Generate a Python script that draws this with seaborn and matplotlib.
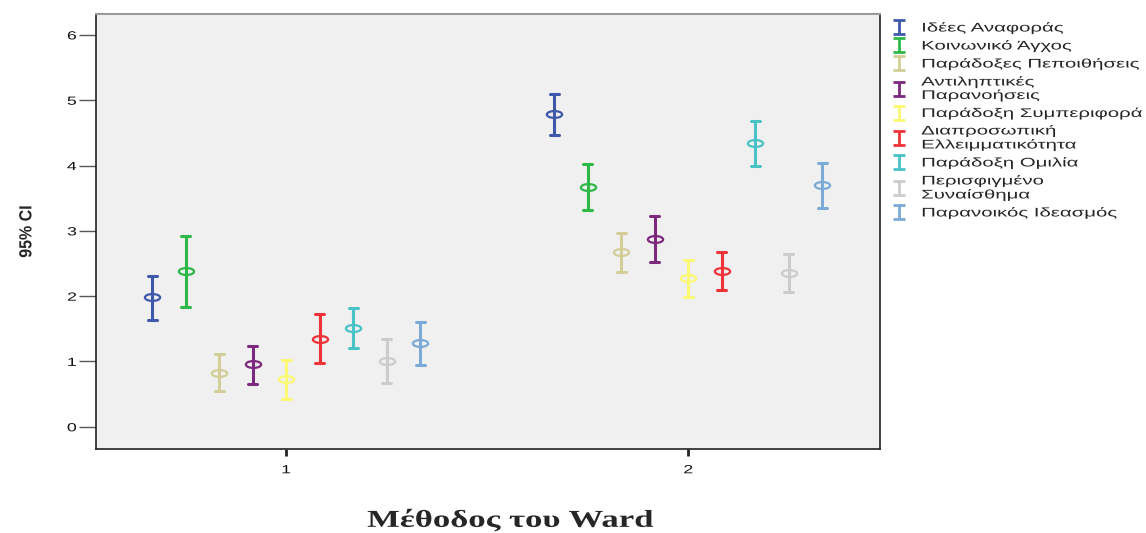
#Import Libraries
import pandas as pd
import numpy as np
import matplotlib.pyplot as plt
import seaborn as sns
from matplotlib.path import Path
from matplotlib.transforms import Affine2D
from matplotlib.lines import Line2D
from matplotlib.patheffects import AbstractPathEffect

#Data: cluster groups, subscales, 95% CI low / mean / high
groups = ["1", "2"]
scales = ["Ιδέες Αναφοράς", "Κοινωνικό Άγχος", "Παράδοξες Πεποιθήσεις",
          "Αντιληπτικές\nΠαρανοήσεις", "Παράδοξη Συμπεριφορά",
          "Διαπροσωπική\nΕλλειμματικότητα", "Παράδοξη Ομιλία",
          "Περισφιγμένο\nΣυναίσθημα", "Παρανοικός Ιδεασμός"]
colors = ["#3E58AC", "#2EB848", "#D3CE97", "#7C287D", "#FBF873",
          "#EF3338", "#48C2C5", "#CCCCCC", "#7AAAD5"]

mean_g1 = [1.98, 2.39, 0.83, 0.96, 0.73, 1.35, 1.51, 1.01, 1.28]
low_g1 = [1.64, 1.84, 0.55, 0.66, 0.43, 0.98, 1.20, 0.67, 0.95]
high_g1 = [2.31, 2.92, 1.11, 1.24, 1.02, 1.72, 1.82, 1.34, 1.61]

mean_g2 = [4.79, 3.67, 2.68, 2.88, 2.28, 2.38, 4.34, 2.36, 3.70]
low_g2 = [4.47, 3.32, 2.37, 2.53, 1.99, 2.10, 4.00, 2.07, 3.35]
high_g2 = [5.09, 4.02, 2.97, 3.22, 2.56, 2.67, 4.68, 2.65, 4.04]

#Long table: each cell gets low, mean, high -> median = mean, min/max = CI
rows = []
for g, lo, me, hi in [("1", low_g1, mean_g1, high_g1), ("2", low_g2, mean_g2, high_g2)]:
    for s, a, b, c in zip(scales, lo, me, hi):
        for v in (a, b, c):
            rows.append({"group": g, "scale": s, "value": v})
df = pd.DataFrame(rows)


#Text in the original is stretched sideways, this widens glyphs in place
class Stretch(AbstractPathEffect):
    def __init__(self, sx=1.0, sy=1.0, anchor="left"):
        super().__init__()
        self.sx, self.sy, self.anchor = sx, sy, anchor

    def draw_path(self, renderer, gc, tpath, affine, rgbFace=None):
        ext = tpath.get_extents()
        cx = {"left": 0.0, "center": (ext.x0 + ext.x1) / 2, "right": ext.x1}[self.anchor]
        cy = (ext.y0 + ext.y1) / 2
        t = Affine2D().translate(-cx, -cy).scale(self.sx, self.sy).translate(cx, cy)
        renderer.draw_path(gc, tpath, t + affine, rgbFace)


#Adjustments
sns.set_theme(style="ticks")
plt.rcParams['font.family'] = ['Liberation Sans', 'DejaVu Sans']

ellipse = Path.unit_circle().transformed(Affine2D().scale(1.0, 0.45))

fig = plt.figure(figsize=(11.46, 5.33), dpi=100)
ax = fig.add_axes([0.0838, 0.1576, 0.6841, 0.8161])
ax.set_facecolor("#F0F0F0")

sns.pointplot(data=df, x="group", y="value", hue="scale", order=groups,
              hue_order=scales, palette=colors, estimator=np.median,
              errorbar=lambda x: (x.min(), x.max()), dodge=8 / 12,
              markers=[ellipse] * len(scales), linestyles="none",
              capsize=0.022, err_kws={"linewidth": 2.2},
              markersize=11, markeredgewidth=1.6, markerfacecolor="none",
              legend=False, ax=ax)

ax.set_xlim(-0.473, 1.477)
ax.set_ylim(-0.34, 6.32)
ax.set_yticks(range(0, 7))
ax.tick_params(axis="y", direction="out", length=12, width=1, color="#555555",
               labelsize=8.5, pad=2, labelcolor="#111111")
ax.tick_params(axis="x", direction="out", length=5, width=2, color="#222222",
               labelsize=8.5, pad=6, labelcolor="#111111")
for lab in ax.get_yticklabels():
    lab.set_path_effects([Stretch(sx=1.5, anchor="right")])
for lab in ax.get_xticklabels():
    lab.set_path_effects([Stretch(sx=1.5, anchor="center")])

for side in ["left", "bottom", "right"]:
    ax.spines[side].set_color("#222222")
    ax.spines[side].set_linewidth(1.2)
ax.spines["top"].set_color("#999999")
ax.spines["top"].set_linewidth(1.5)

ax.set_ylabel("95% CI", fontsize=11.5, fontweight="bold",
              family=["Liberation Sans Narrow", "Liberation Sans"], labelpad=26)
ax.yaxis.label.set_path_effects([Stretch(sy=1.1)])
ax.set_xlabel("Μέθοδος του Ward", fontsize=17.5, fontweight="bold",
              family=["Liberation Serif", "DejaVu Serif"], labelpad=24)
ax.xaxis.label.set_x(0.528)
ax.xaxis.label.set_path_effects([Stretch(sx=1.43, anchor="center")])

#Legend with I-beam symbols
ibeam = Path([(-0.86, -1), (0.86, -1), (0, -1), (0, 1), (-0.86, 1), (0.86, 1)],
             [Path.MOVETO, Path.LINETO, Path.MOVETO, Path.LINETO, Path.MOVETO, Path.LINETO])
handles = [Line2D([], [], linestyle="none", marker=ibeam, markersize=10,
                  markeredgewidth=2, color=c) for c in colors]
leg = fig.legend(handles, scales, loc="upper left", bbox_to_anchor=(0.7749, 0.969),
                 frameon=False, fontsize=9, handlelength=1.0, handletextpad=1.25,
                 labelspacing=0.4, borderaxespad=0, borderpad=0.4)
for t in leg.get_texts():
    t.set_path_effects([Stretch(sx=1.63)])
    t.set_linespacing(1.1)

plt.savefig("out.png", dpi=100)
